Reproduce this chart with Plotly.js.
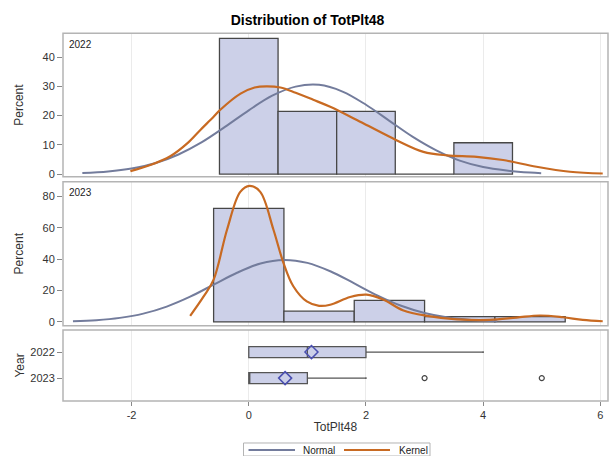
<!DOCTYPE html>
<html>
<head>
<meta charset="utf-8">
<script src="https://cdn.plot.ly/plotly-3.0.1.min.js"></script>
<style>html,body{margin:0;padding:0;background:#fff;}#chart{width:609px;height:456px;}</style>
</head>
<body>
<div id="chart"></div>
<script>
// ---- data ----
const years = ['2022', '2023'];

// histogram bins (centre, width) and percent
const binCenters2022 = [0, 1, 2, 3, 4];
const binWidth2022 = 1;
const pct2022 = [46.4, 21.4, 21.4, 0, 10.7];

const binCenters2023 = [0, 1.2, 2.4, 3.6, 4.8];
const binWidth2023 = 1.2;
const pct2023 = [72.4, 6.9, 13.8, 3.4, 3.4];

// normal curves
const normX2022 = [-2.84, -2.4, -2.0, -1.6, -1.2, -0.8, -0.4, 0.0, 0.4, 0.8, 1.2, 1.6, 2.0, 2.4, 2.8, 3.2, 3.6, 4.0, 4.4, 4.8, 4.99];
const normY2022 = [0.35, 0.88, 1.9, 3.7, 6.7, 10.9, 16.2, 21.8, 26.8, 29.9, 30.5, 28.2, 23.7, 18.2, 12.7, 8.1, 4.6, 2.4, 1.2, 0.5, 0.32];

const normX2023 = [-3.0, -2.6, -2.2, -1.8, -1.4, -1.0, -0.6, -0.2, 0.2, 0.6, 1.0, 1.4, 1.8, 2.2, 2.6, 3.0, 3.4, 3.8, 4.24];
const normY2023 = [0.44, 1.13, 2.6, 5.3, 9.8, 16.1, 23.8, 31.4, 37.3, 39.6, 37.7, 32.2, 24.6, 16.8, 10.3, 5.7, 2.8, 1.24, 0.44];

// kernel density curves
const kernX2022 = [-2.02, -1.68, -1.34, -1.05, -0.83, -0.6, -0.49, -0.14, 0.1, 0.3, 0.54, 0.8, 1.1, 1.39, 1.96, 2.52, 2.98, 3.38, 3.89, 4.34, 4.91, 5.48, 6.04];
const kernY2022 = [1.0, 3.1, 6.1, 10.5, 15.0, 19.6, 21.9, 27.5, 29.6, 30.0, 29.6, 27.8, 25.4, 23.0, 17.3, 11.6, 7.6, 6.4, 5.9, 4.8, 2.5, 0.8, 0.2];

const kernX2023 = [-1.0, -0.77, -0.6, -0.37, -0.145, 0.014, 0.196, 0.42, 0.59, 0.76, 0.99, 1.2, 1.39, 1.73, 2.01, 2.3, 2.64, 3.04, 3.55, 4.11, 4.57, 4.97, 5.36, 5.7, 6.04];
const kernY2023 = [3.9, 16.3, 27.0, 59.0, 83.0, 86.8, 83.0, 59.0, 37.9, 22.8, 13.1, 10.3, 11.0, 15.9, 17.4, 14.2, 7.3, 3.9, 1.7, 1.3, 2.8, 4.1, 3.0, 1.3, 0.45];

// box plot statistics
const boxQ1 = [0, 0];
const boxMedian = [1, 0];
const boxQ3 = [2, 1];
const boxLow = [0, 0];
const boxHigh = [4, 2];
const boxMean = [1.07, 0.62];
const outlierX = [3, 5];
const outlierYear = ['2023', '2023'];

const xTicks = [-2, 0, 2, 4, 6];
const legendNames = ['Normal', 'Kernel'];

// ---- styling ----
const FILL = '#CCD0E8';
const EDGE = '#474747';
const NORMAL = '#737C9C';
const KERNEL = '#C86A22';
const FRAME = '#B4B4B4';
const GRID = '#EBEBEB';
const FONT = 'Liberation Sans, Arial, sans-serif';

const traces = [
  {type: 'bar', x: binCenters2022, y: pct2022, width: binWidth2022, xaxis: 'x', yaxis: 'y',
   marker: {color: FILL, line: {color: EDGE, width: 1.3}}, showlegend: false, hoverinfo: 'skip'},
  {type: 'scatter', mode: 'lines', x: normX2022, y: normY2022, xaxis: 'x', yaxis: 'y',
   line: {color: NORMAL, width: 2, shape: 'spline'}, name: legendNames[0], showlegend: false},
  {type: 'scatter', mode: 'lines', x: kernX2022, y: kernY2022, xaxis: 'x', yaxis: 'y',
   line: {color: KERNEL, width: 2.2, shape: 'spline'}, name: legendNames[1], showlegend: false},

  {type: 'bar', x: binCenters2023, y: pct2023, width: binWidth2023, xaxis: 'x', yaxis: 'y2',
   marker: {color: FILL, line: {color: EDGE, width: 1.3}}, showlegend: false, hoverinfo: 'skip'},
  {type: 'scatter', mode: 'lines', x: normX2023, y: normY2023, xaxis: 'x', yaxis: 'y2',
   line: {color: NORMAL, width: 2, shape: 'spline'}, name: legendNames[0], showlegend: false},
  {type: 'scatter', mode: 'lines', x: kernX2023, y: kernY2023, xaxis: 'x', yaxis: 'y2',
   line: {color: KERNEL, width: 2.2, shape: 'spline'}, name: legendNames[1], showlegend: false},

  {type: 'box', orientation: 'h', y: years, q1: boxQ1, median: boxMedian, q3: boxQ3,
   lowerfence: boxLow, upperfence: boxHigh, xaxis: 'x', yaxis: 'y3', width: 0.42,
   whiskerwidth: 0.15, fillcolor: FILL, line: {color: '#555555', width: 1.3},
   boxpoints: false, showlegend: false, hoverinfo: 'skip'},
  {type: 'scatter', mode: 'markers', x: boxMean, y: years, xaxis: 'x', yaxis: 'y3',
   marker: {symbol: 'diamond-open', size: 10, color: '#4A4FB0', line: {width: 1.5, color: '#4A4FB0'}},
   showlegend: false, hoverinfo: 'skip'},
  {type: 'scatter', mode: 'markers', x: outlierX, y: outlierYear, xaxis: 'x', yaxis: 'y3',
   marker: {symbol: 'circle-open', size: 5, color: '#444444', line: {width: 1.2, color: '#444444'}},
   showlegend: false, hoverinfo: 'skip'}
];

const d1 = [0.6095, 0.999];
const d2 = [0.2046, 0.596];
const d3 = [0, 0.193];

const yBase = {
  showgrid: false, zeroline: false, ticks: 'outside', ticklen: 5, tickcolor: '#888',
  tickfont: {size: 11, color: '#333', family: FONT}, showline: false, automargin: false
};

// legend drawn by hand (paper coordinates)
const LEG_Y = -0.1332;
const legendShapes = [
  {type: 'rect', xref: 'paper', yref: 'paper', x0: 0.3312, x1: 0.6734, y0: -0.1495, y1: -0.1141,
   line: {color: FRAME, width: 1}, fillcolor: 'rgba(0,0,0,0)'},
  {type: 'line', xref: 'paper', yref: 'paper', x0: 0.3404, x1: 0.4257, y0: LEG_Y, y1: LEG_Y,
   line: {color: NORMAL, width: 2}},
  {type: 'line', xref: 'paper', yref: 'paper', x0: 0.5156, x1: 0.6, y0: LEG_Y, y1: LEG_Y,
   line: {color: KERNEL, width: 2.2}}
];
const legendText = [
  {text: legendNames[0], xref: 'paper', yref: 'paper', x: 0.4367, y: LEG_Y, xanchor: 'left', yanchor: 'middle',
   showarrow: false, font: {size: 10, color: '#222', family: FONT}},
  {text: legendNames[1], xref: 'paper', yref: 'paper', x: 0.6128, y: LEG_Y, xanchor: 'left', yanchor: 'middle',
   showarrow: false, font: {size: 10, color: '#222', family: FONT}}
];

const layout = {
  width: 609, height: 456,
  margin: {l: 63, r: 1, t: 33, b: 55},
  paper_bgcolor: '#fff', plot_bgcolor: '#fff',
  font: {family: FONT, color: '#333'},
  title: {text: '<b>Distribution of TotPlt48</b>', x: 0.505, xanchor: 'center', y: 0.956, yanchor: 'middle',
          font: {size: 14, color: '#000', family: FONT}},
  bargap: 0,
  showlegend: false,
  xaxis: {anchor: 'y3', range: [-3.17, 6.13], tickvals: xTicks, ticktext: xTicks.map(String),
          showgrid: true, gridcolor: GRID, gridwidth: 1, zeroline: false, ticks: 'outside', ticklen: 4,
          tickcolor: '#888', tickfont: {size: 11, color: '#333', family: FONT},
          title: {text: 'TotPlt48', font: {size: 12, color: '#333', family: FONT}, standoff: 2}, automargin: false},
  yaxis: Object.assign({}, yBase, {domain: d1, anchor: 'x', range: [-0.9, 48.1], tickvals: [0, 10, 20, 30, 40],
          title: {text: 'Percent', font: {size: 12, color: '#333', family: FONT}, standoff: 16}}),
  yaxis2: Object.assign({}, yBase, {domain: d2, anchor: 'x', range: [-2.4, 89.5], tickvals: [0, 20, 40, 60, 80],
          title: {text: 'Percent', font: {size: 12, color: '#333', family: FONT}, standoff: 16}}),
  yaxis3: Object.assign({}, yBase, {domain: d3, anchor: 'x', type: 'category', categoryorder: 'array',
          categoryarray: years, range: [1.88, -0.85],
          title: {text: 'Year', font: {size: 12, color: '#333', family: FONT}, standoff: 3}}),
  shapes: [
    {type: 'rect', xref: 'paper', yref: 'y domain', x0: 0, x1: 1, y0: 0, y1: 1, line: {color: FRAME, width: 1.5}, layer: 'above'},
    {type: 'rect', xref: 'paper', yref: 'y2 domain', x0: 0, x1: 1, y0: 0, y1: 1, line: {color: FRAME, width: 1.5}, layer: 'above'},
    {type: 'rect', xref: 'paper', yref: 'y3 domain', x0: 0, x1: 1, y0: 0, y1: 1, line: {color: FRAME, width: 1.5}, layer: 'above'}
  ].concat(legendShapes),
  annotations: [
    {text: '2022', xref: 'paper', yref: 'y domain', x: 0.008, y: 0.975, xanchor: 'left', yanchor: 'top',
     showarrow: false, font: {size: 10, color: '#222', family: FONT}},
    {text: '2023', xref: 'paper', yref: 'y2 domain', x: 0.008, y: 0.975, xanchor: 'left', yanchor: 'top',
     showarrow: false, font: {size: 10, color: '#222', family: FONT}}
  ].concat(legendText)
};

Plotly.newPlot('chart', traces, layout, {displayModeBar: false, staticPlot: true});
</script>
</body>
</html>
